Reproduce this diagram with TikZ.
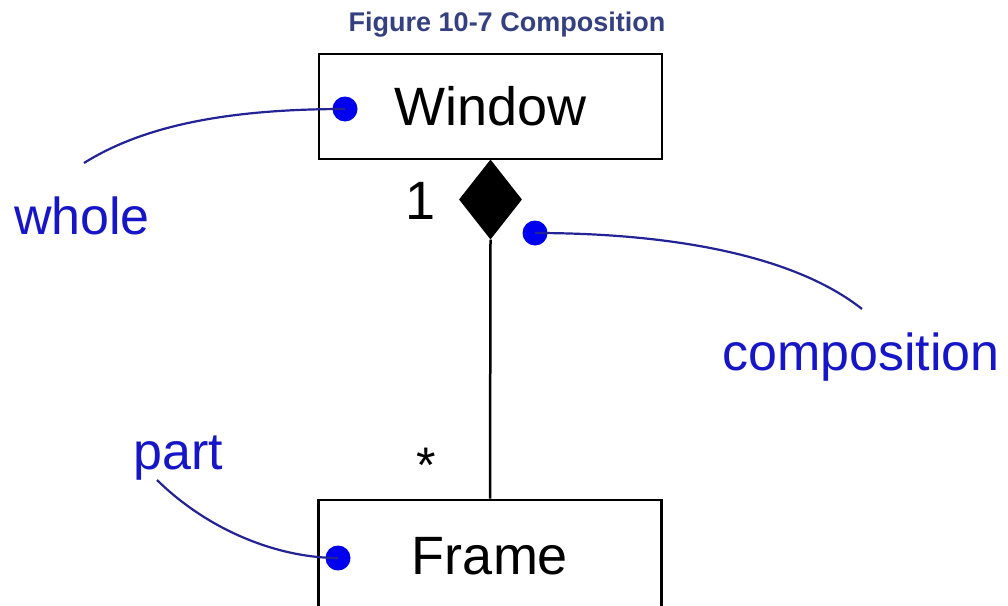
\documentclass[tikz,border=0pt]{standalone}
\usepackage{fontspec}
\setmainfont{Liberation Sans}
\usetikzlibrary{shapes.geometric}
\definecolor{titleblue}{RGB}{52,64,128}
\definecolor{noteblue}{RGB}{22,22,200}
\definecolor{dotblue}{RGB}{0,0,238}
\definecolor{curveblue}{RGB}{35,35,150}
\begin{document}
\begin{tikzpicture}[x=1pt,y=-1pt,
  classbox/.style={draw=black, line width=2.6pt, minimum width=343pt, minimum height=105pt, inner sep=0pt, font=\fontsize{54}{60}\selectfont},
  note/.style={text=noteblue, font=\fontsize{52}{60}\selectfont, inner sep=0pt, anchor=base},
  pin/.style={circle, fill=dotblue, minimum size=25pt, inner sep=0pt},
  link/.style={draw=curveblue, line width=2.2pt},
  mult/.style={font=\fontsize{54}{60}\selectfont, inner sep=0pt}
]
\useasboundingbox (0,0) rectangle (1008,605);
\clip (0,0) rectangle (1008,605);
\fill[white] (0,0) rectangle (1008,605);

\node[font=\bfseries\fontsize{27}{30}\selectfont, text=titleblue, anchor=base, inner sep=0pt] (title) at (507,31) {Figure 10-7 Composition};

\node[classbox] (window) at (490.5,106.5) {Window};
\node[classbox, minimum height=112pt] (frame) at (490,556) {Frame};
\node[diamond, fill=black, minimum width=63pt, minimum height=80pt, inner sep=0pt] (dia) at (490.5,199.5) {};
\draw[line width=2.5pt] (dia.south) -- (frame.north);

\node[mult] (one) at (421,201) {1};
\node[font=\fontsize{50}{50}\selectfont, inner sep=0pt] (star) at (426,465) {*};

\node[pin] (p1) at (345,109) {};
\node[pin] (p2) at (535,233) {};
\node[pin] (p3) at (338,558) {};

\node[note] (whole) at (82,234) {whole};
\node[note] (comp) at (861,370) {composition};
\node[note] (part) at (178,469) {part};

\coordinate (wend) at (84,163);
\coordinate (cend) at (862,309);
\coordinate (pend) at (157,480);

\draw[link] (p1.center) .. controls (220,109) and (140,128) .. (wend);
\draw[link] (p2.center) .. controls (660,233) and (790,252) .. (cend);
\draw[link] (pend) .. controls (210,532) and (280,558) .. (p3.center);
\end{tikzpicture}
\end{document}
